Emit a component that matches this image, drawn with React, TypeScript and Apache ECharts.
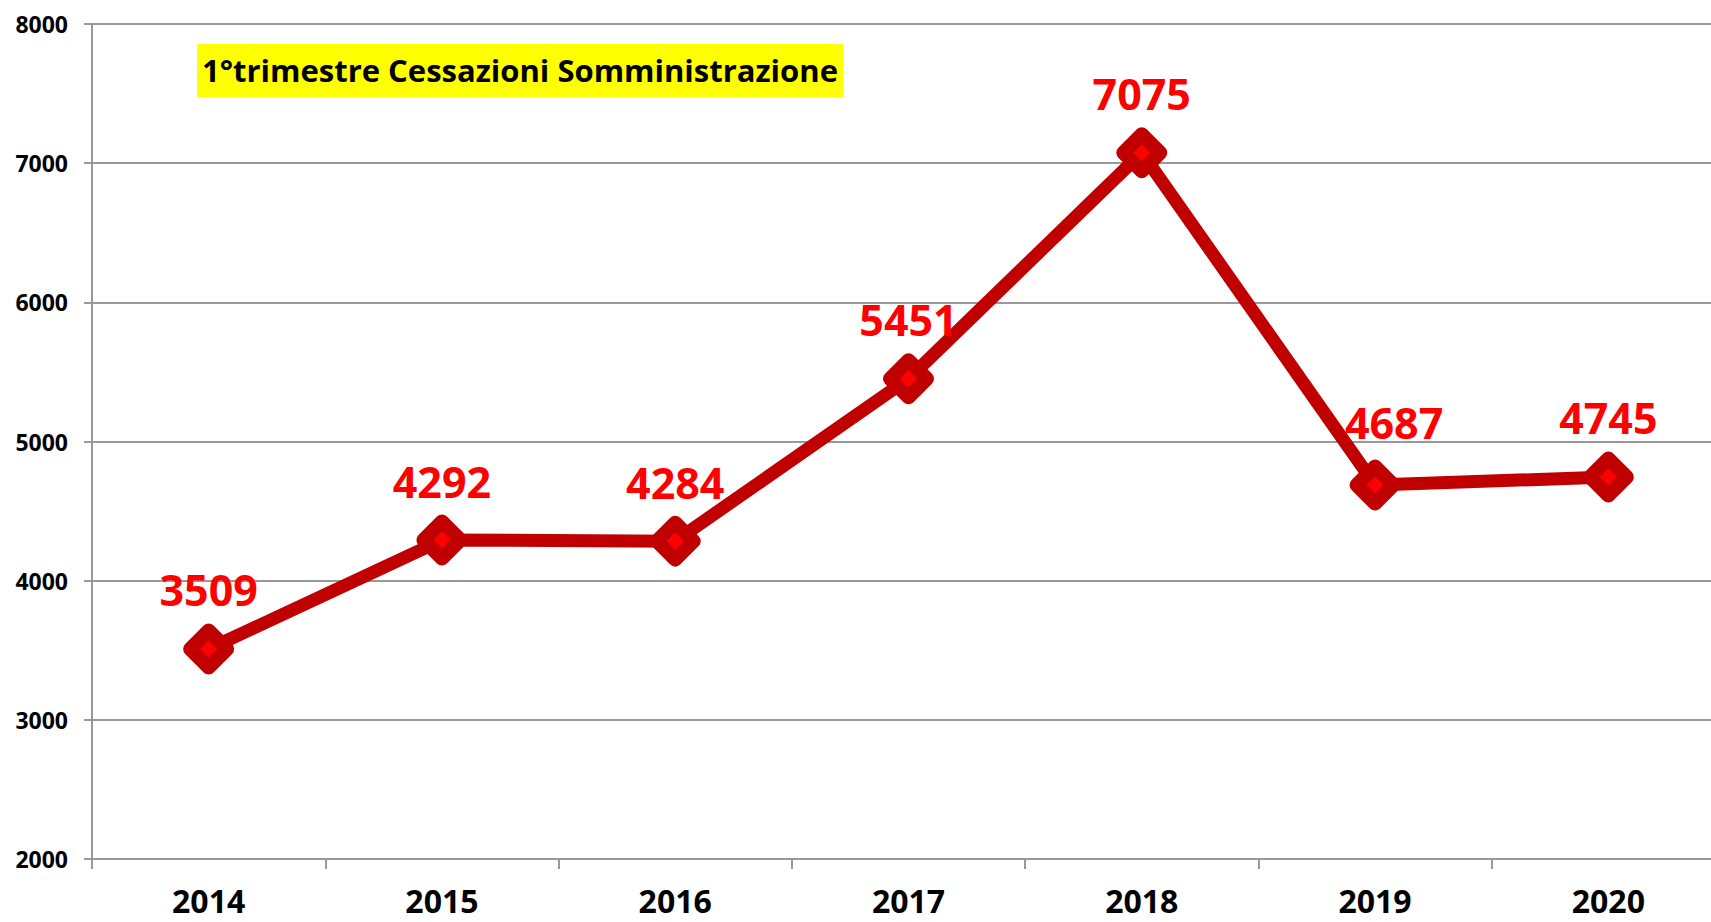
import React, { useEffect, useRef } from "react";
import * as echarts from "echarts";

const years = ["2014", "2015", "2016", "2017", "2018", "2019", "2020"];
const values = [3509, 4292, 4284, 5451, 7075, 4687, 4745];
const yMin = 2000;
const yMax = 8000;
const yStep = 1000;
const titleText = "1°trimestre Cessazioni Somministrazione";

const FONT = '"Open Sans", "Noto Sans", sans-serif';

export default function App() {
  const ref = useRef<HTMLDivElement>(null);
  useEffect(() => {
    if (!ref.current) return;
    const chart = echarts.init(ref.current, undefined, { renderer: "svg" });
    const gridColor = "#999999";
    chart.setOption({
      animation: false,
      backgroundColor: "#ffffff",
      textStyle: { fontFamily: FONT },
      grid: { left: 92, top: 24, bottom: 63, right: 0, containLabel: false },
      graphic: [
        {
          type: "rect",
          shape: { x: 197, y: 44, width: 646, height: 53 },
          style: { fill: "#FFFF00" },
          z: 1,
        },
        {
          type: "text",
          x: 520,
          y: 70,
          style: {
            text: titleText,
            fontFamily: FONT,
            fontWeight: "bold",
            fontSize: 31,
            fill: "#000000",
            align: "center",
            verticalAlign: "middle",
          },
          z: 2,
        },
      ],
      xAxis: {
        type: "category",
        data: years,
        boundaryGap: true,
        axisLine: { show: true, lineStyle: { color: gridColor, width: 2 } },
        axisTick: { show: true, length: 10, lineStyle: { color: gridColor, width: 2 } },
        axisLabel: {
          color: "#000000",
          fontFamily: FONT,
          fontWeight: "bold",
          fontSize: 32,
          lineHeight: 32,
          margin: 25,
        },
        splitLine: { show: false },
      },
      yAxis: {
        type: "value",
        min: yMin,
        max: yMax,
        interval: yStep,
        axisLine: { show: true, lineStyle: { color: gridColor, width: 2 } },
        axisTick: { show: true, length: 8, lineStyle: { color: gridColor, width: 2 } },
        axisLabel: {
          color: "#000000",
          fontFamily: FONT,
          fontWeight: "bold",
          fontSize: 23,
          margin: 24,
          formatter: (v: number) => String(v),
        },
        splitLine: { show: true, lineStyle: { color: gridColor, width: 2 } },
      },
      series: [
        {
          type: "line",
          data: values.map((v, i) =>
            i === 5 ? { value: v, label: { offset: [19, -4] } } : v
          ),
          lineStyle: { color: "#C00000", width: 13, join: "round" },
          symbol: "diamond",
          symbolSize: 37,
          itemStyle: {
            color: "#FF0000",
            borderColor: "#C00000",
            borderWidth: 14,
            borderJoin: "round",
          },
          label: {
            show: true,
            position: "top",
            distance: 12,
            color: "#FF0000",
            fontFamily: FONT,
            fontWeight: "bold",
            fontSize: 43,
          },
          z: 3,
        },
      ],
    });
    return () => chart.dispose();
  }, []);
  return (
    <div style={{ position: "fixed", left: 0, top: 0, width: "1711px", height: "922px", overflow: "hidden" }}>
      <div ref={ref} style={{ position: "absolute", left: 0, top: 0, width: "1725px", height: "922px" }} />
    </div>
  );
}
